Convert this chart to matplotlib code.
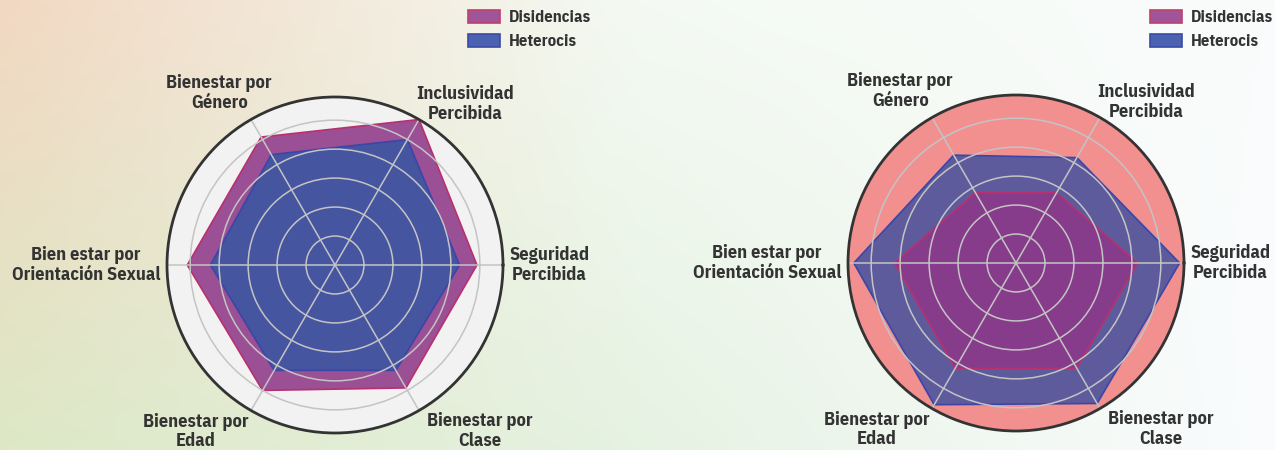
import numpy as np
import matplotlib
matplotlib.use('Agg')
import matplotlib.pyplot as plt
from matplotlib.patches import Patch

categories = ['Seguridad\nPercibida', 'Inclusividad\nPercibida', 'Bienestar por\nGénero',
              'Bien estar por\nOrientación Sexual', 'Bienestar por\nEdad', 'Bienestar por\nClase']
series_names = ['Disidencias', 'Heterocis']

left_disidencias = [4.9, 5.8, 5.1, 5.1, 5.0, 4.9]
left_heterocis = [4.3, 5.0, 4.4, 4.3, 4.2, 4.2]
right_disidencias = [4.2, 2.8, 2.8, 4.2, 4.2, 4.2]
right_heterocis = [5.65, 4.2, 4.3, 5.6, 5.65, 5.6]

rmax = 5.8
rings = [1, 2, 3, 4, 5]

# label positions (theta deg, r) outside the circle
label_pos = [(0, 7.4), (51, 7.15), (124, 7.15), (180, 8.6), (230, 7.5), (311, 7.6)]

fam = ['IBM Plex Sans Condensed', 'DejaVu Sans']
plt.rcParams['font.family'] = fam
fig = plt.figure(figsize=(12.75, 4.5), dpi=100)

# background gradient
bg = fig.add_axes([0, 0, 1, 1], zorder=-5)
h, w = 90, 255
yy = np.linspace(0, 1, h)[:, None]
left_col = (1 - yy) * np.array([242, 216, 194]) + yy * np.array([221, 232, 198])
mid_col = (1 - yy) * np.array([244, 250, 243]) + yy * np.array([230, 242, 226])
right_col = (1 - yy) * np.array([250, 252, 252]) + yy * np.array([250, 252, 254])
xx = np.linspace(0, 1, w)
img = np.zeros((h, w, 3))
for c in range(3):
    for i in range(h):
        img[i, :, c] = np.interp(xx, [0, 0.5, 1], [left_col[i, c], mid_col[i, c], right_col[i, c]])
bg.imshow(img / 255, aspect='auto', extent=[0, 1, 0, 1], interpolation='bicubic')
bg.axis('off')

n = len(categories)
theta = np.deg2rad(np.arange(n) * 360 / n)
theta_c = np.append(theta, theta[0])


def close(v):
    return np.append(v, v[0])


def radar(rect, bgcolor, layers):
    ax = fig.add_axes(rect, projection='polar')
    ax.set_facecolor(bgcolor)
    for vals, fc, ec in layers:
        ax.fill(theta_c, close(vals), facecolor=fc, edgecolor=ec, lw=1.2)
    ax.set_ylim(0, rmax)
    ax.set_yticks(rings)
    ax.set_yticklabels([])
    ax.set_xticks(theta)
    ax.set_xticklabels([])
    ax.tick_params(length=0)
    ax.grid(color='#c4c4c4', lw=1.1)
    ax.spines['polar'].set_color('#333333')
    ax.spines['polar'].set_linewidth(2)
    for lab, (t, r) in zip(categories, label_pos):
        ax.text(np.deg2rad(t), r, lab, ha='center', va='center', fontsize=13.2,
                fontweight='bold', color='#333333', clip_on=False, linespacing=1.12)
    return ax


radar([167 / 1275, 17 / 450, 336 / 1275, 336 / 450], '#f2f2f2',
      [(left_disidencias, '#9b4f94', '#b8306e'),
       (left_heterocis, '#4555a0', '#3a46a8')])
radar([848 / 1275, 19 / 450, 336 / 1275, 336 / 450], '#f29090',
      [(right_heterocis, '#5d5b9c', '#3a46a8'),
       (right_disidencias, '#863c8a', '#b8306e')])

handles = [Patch(facecolor='#a0559a', edgecolor='#c0406a', lw=1.2),
           Patch(facecolor='#4a62b0', edgecolor='#3a4aa8', lw=1.2)]
for x0 in [468 / 1275, 1150 / 1275]:
    fig.legend(handles, series_names, loc='upper left', bbox_to_anchor=(x0, 0.978),
               frameon=False, borderpad=0, borderaxespad=0, handlelength=1.9,
               handleheight=0.8, handletextpad=0.55, labelspacing=0.55,
               prop={'family': fam, 'weight': 'bold', 'size': 12},
               labelcolor='#333333')

fig.savefig('out.png', dpi=100)
